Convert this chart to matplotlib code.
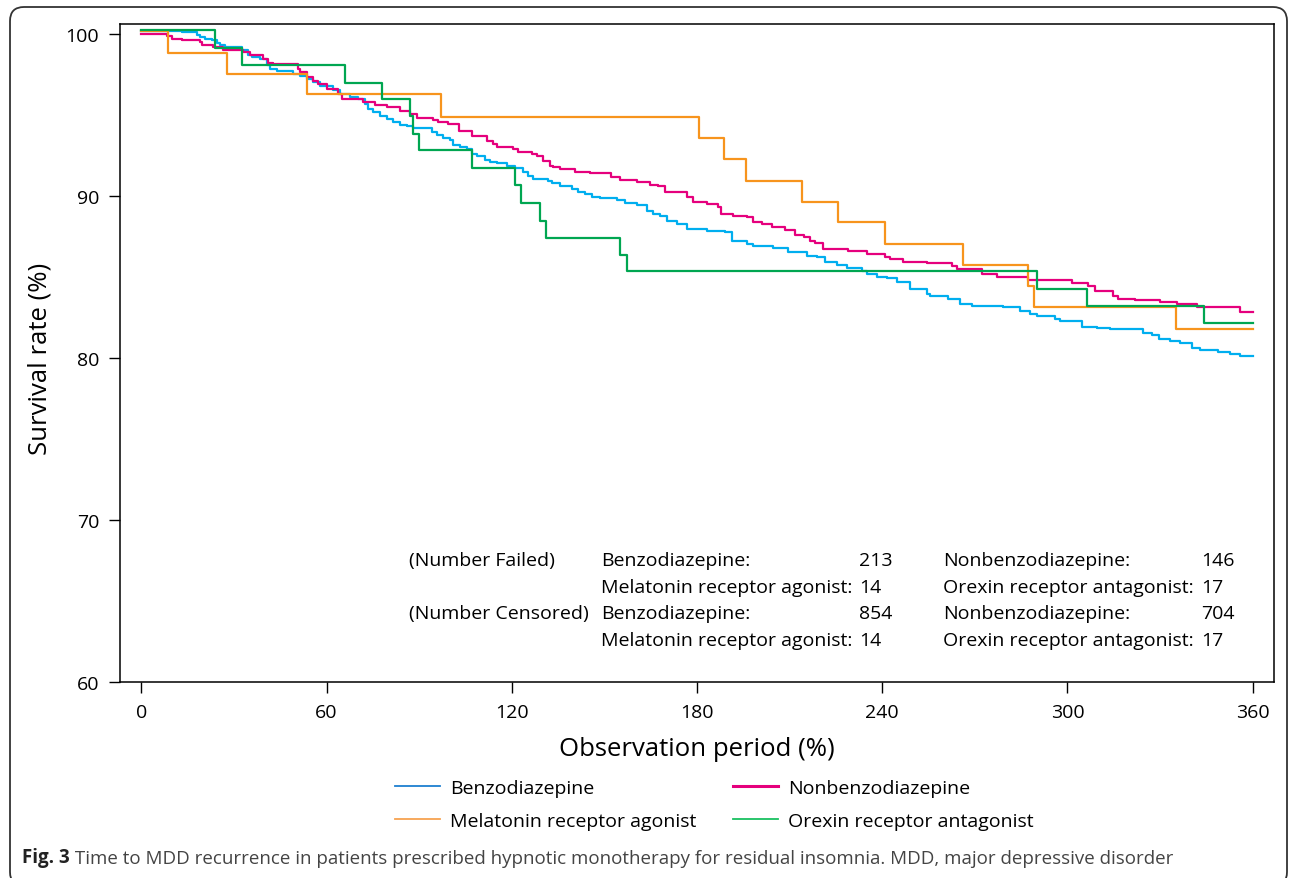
import matplotlib
matplotlib.use('Agg')
import matplotlib.pyplot as plt
from matplotlib.lines import Line2D
from matplotlib.patches import FancyBboxPatch
from matplotlib.transforms import IdentityTransform

plt.rcParams['font.family'] = ['Open Sans', 'DejaVu Sans']

# Kaplan-Meier step curves (days, survival %)
benzo_t = [0, 13.1, 17.9, 19.0, 20.6, 22.8, 24.4, 25.5, 27.1, 32.5, 34.7, 35.8, 38.5,
           40.6, 41.7, 43.9, 49.2, 51.4, 53.6, 55.7, 57.9, 62.2, 64.4, 67.6, 70.3, 72.5,
           73.5, 75.2, 77.3, 79.5, 81.6, 83.8, 86.0, 88.1, 94.1, 95.7, 97.8, 100.0, 101.1,
           103.2, 105.4, 107.0, 108.6, 111.3, 113.0, 115.1, 118.4, 121.1, 123.7, 125.4,
           127.0, 131.8, 132.9, 135.6, 139.4, 141.6, 143.7, 145.9, 148.6, 154.0, 156.7,
           160.5, 163.7, 165.9, 168.0, 170.2, 173.4, 176.7, 183.2, 189.1, 191.3, 196.1,
           198.3, 204.7, 209.6, 215.5, 218.8, 221.5, 225.3, 228.5, 233.4, 235.0, 238.2,
           241.5, 244.7, 249.0, 254.4, 255.5, 261.4, 265.2, 269.0, 279.2, 284.6, 287.9,
           290.1, 296.0, 297.6, 304.6, 309.5, 313.8, 324.6, 327.3, 329.5, 333.2, 336.5,
           340.3, 343.0, 348.9, 352.7, 355.9, 360]
benzo_s = [100.19, 100.10, 99.94, 99.79, 99.69, 99.59, 99.44, 99.32, 99.18, 98.97, 98.70,
           98.56, 98.45, 98.04, 97.84, 97.67, 97.53, 97.38, 97.22, 97.01, 96.80, 96.50,
           96.29, 96.08, 95.98, 95.67, 95.36, 95.16, 94.95, 94.74, 94.54, 94.37, 94.29,
           94.17, 93.92, 93.72, 93.55, 93.41, 93.14, 93.00, 92.89, 92.58, 92.44, 92.21,
           92.06, 92.02, 91.86, 91.71, 91.45, 91.20, 91.03, 90.93, 90.77, 90.58, 90.41,
           90.21, 90.11, 89.90, 89.84, 89.75, 89.55, 89.42, 89.07, 88.87, 88.72, 88.45,
           88.25, 87.94, 87.84, 87.74, 87.22, 87.01, 86.91, 86.77, 86.50, 86.29, 86.19,
           85.88, 85.71, 85.53, 85.36, 85.16, 84.99, 84.89, 84.68, 84.27, 83.92, 83.82,
           83.65, 83.30, 83.20, 83.10, 82.89, 82.68, 82.58, 82.42, 82.27, 81.92, 81.86,
           81.76, 81.55, 81.39, 81.14, 81.03, 80.89, 80.62, 80.48, 80.35, 80.21, 80.11,
           80.11]

nonbenzo_t = [0, 8.2, 9.8, 13.1, 19.0, 19.6, 23.3, 26.6, 33.0, 35.2, 39.5, 41.1, 42.8,
              50.9, 51.4, 53.6, 55.7, 57.3, 60.0, 63.8, 64.9, 71.9, 75.7, 79.5, 83.8, 87.0,
              89.2, 94.6, 96.2, 99.4, 103.0, 107.0, 111.9, 114.0, 115.1, 120.5, 122.1,
              126.5, 128.1, 130.2, 132.4, 133.5, 135.6, 140.5, 145.4, 152.0, 155.1, 160.5,
              164.8, 167.5, 169.6, 176.7, 178.8, 183.1, 186.9, 187.7, 191.8, 196.1, 198.0,
              201.0, 204.2, 208.5, 211.8, 214.5, 216.6, 218.2, 220.9, 229.0, 235.0, 240.9,
              242.5, 246.8, 254.4, 262.5, 264.1, 272.2, 277.1, 287.3, 301.4, 306.8, 308.9,
              314.9, 316.5, 321.9, 330.0, 335.4, 341.9, 355.9, 360]
nonbenzo_s = [100.0, 99.86, 99.69, 99.59, 99.48, 99.28, 99.18, 98.97, 98.87, 98.70, 98.45,
              98.19, 98.10, 97.84, 97.63, 97.32, 97.11, 96.87, 96.60, 96.29, 95.98, 95.77,
              95.61, 95.47, 95.26, 95.05, 94.78, 94.70, 94.54, 94.43, 94.02, 93.71, 93.40,
              93.20, 92.99, 92.89, 92.68, 92.58, 92.48, 92.17, 91.86, 91.75, 91.65, 91.49,
              91.40, 91.14, 90.97, 90.83, 90.66, 90.58, 90.25, 89.90, 89.59, 89.49, 89.28,
              88.87, 88.77, 88.66, 88.39, 88.25, 88.04, 87.90, 87.57, 87.43, 87.22, 87.07,
              86.70, 86.60, 86.39, 86.19, 86.09, 85.92, 85.84, 85.67, 85.47, 85.16, 85.01,
              84.79, 84.60, 84.40, 84.13, 83.82, 83.65, 83.55, 83.45, 83.30, 83.10, 82.83,
              82.83]

melatonin_t = [0, 8.6, 27.8, 53.7, 97.0, 180.8, 188.9, 195.8, 214.0, 225.8, 240.9, 266.0,
               287.1, 289.2, 335.2, 360]
melatonin_s = [100.14, 98.8, 97.5, 96.27, 94.85, 93.57, 92.27, 90.93, 89.6, 88.35, 87.03,
               85.7, 84.4, 83.1, 81.76, 81.76]

orexin_t = [0, 23.9, 32.7, 66.0, 77.9, 87.0, 87.9, 90.1, 107.0, 121.0, 122.9, 129.2, 131.0,
            155.2, 157.3, 290.0, 306.3, 344.2, 360]
orexin_s = [100.2, 99.1, 98.04, 96.97, 95.94, 94.95, 93.8, 92.8, 91.7, 90.68, 89.57, 88.45,
            87.4, 86.35, 85.36, 84.27, 83.2, 82.13, 82.13]

# counts table shown inside the plot
count_rows = ['(Number Failed)', '', '(Number Censored)', '']
count_names = ['Benzodiazepine:', 'Melatonin receptor agonist:',
               'Benzodiazepine:', 'Melatonin receptor agonist:']
count_vals = ['213', '14', '854', '14']
count_names2 = ['Nonbenzodiazepine:', 'Orexin receptor antagonist:',
                'Nonbenzodiazepine:', 'Orexin receptor antagonist:']
count_vals2 = ['146', '17', '704', '17']

xticks = [0, 60, 120, 180, 240, 300, 360]
yticks = [60, 70, 80, 90, 100]

W, H = 1292, 879
fig = plt.figure(figsize=(W / 100, H / 100), dpi=100)

# rounded frame around the whole figure
frame = FancyBboxPatch((10, -8), 1277, 879, boxstyle='round,pad=0,rounding_size=14',
                       transform=IdentityTransform(), fill=False, ec='#333333', lw=1.3)
fig.add_artist(frame)

ax = fig.add_axes([120 / W, 1 - 682.7 / H, 1154 / W, 657.7 / H])

ax.step(benzo_t, benzo_s, where='post', color='#00AEEF', lw=1.6, zorder=2)
ax.step(nonbenzo_t, nonbenzo_s, where='post', color='#E5007D', lw=1.6, zorder=3)
ax.step(melatonin_t, melatonin_s, where='post', color='#F7941D', lw=1.6, zorder=4)
ax.step(orexin_t, orexin_s, where='post', color='#00A651', lw=1.6, zorder=5)

ax.set_xlim(-6.9, 366.9)
ax.set_ylim(60, 100.6)
ax.set_xticks(xticks)
ax.set_yticks(yticks)
ax.tick_params(direction='out', length=8, width=1, labelsize=14, pad=7, colors='black')
for sp in ax.spines.values():
    sp.set_linewidth(1.1)

ax.set_xlabel('Observation period (%)', fontsize=18.5)
ax.xaxis.set_label_coords(0.5, -0.1023)
ax.xaxis.label.set_va('center')
ax.set_ylabel('Survival rate (%)', fontsize=18.5)
ax.yaxis.set_label_coords(-0.0693, 0.493)
ax.yaxis.label.set_va('center')

row_y = [67.53, 65.86, 64.25, 62.58]
for i in range(4):
    ax.text(86.8, row_y[i], count_rows[i], fontsize=14, va='center')
    ax.text(148.9, row_y[i], count_names[i], fontsize=14, va='center')
    ax.text(232.5, row_y[i], count_vals[i], fontsize=14, va='center')
    ax.text(259.7, row_y[i], count_names2[i], fontsize=14, va='center')
    ax.text(343.3, row_y[i], count_vals2[i], fontsize=14, va='center')

# legend below the axes, two columns
h1 = [Line2D([], [], color='#1E7FD0', lw=1.3), Line2D([], [], color='#F7A350', lw=1.3)]
h2 = [Line2D([], [], color='#E5007D', lw=2.2), Line2D([], [], color='#19C060', lw=1.3)]
leg_kw = dict(loc='center left', frameon=False, fontsize=14, borderpad=0,
              borderaxespad=0, handlelength=2.3, handletextpad=0.55, labelspacing=0.8)
leg1 = fig.legend(h1, ['Benzodiazepine', 'Melatonin receptor agonist'],
                  bbox_to_anchor=(395 / W, 1 - 805.5 / H), **leg_kw)
leg2 = fig.legend(h2, ['Nonbenzodiazepine', 'Orexin receptor antagonist'],
                  bbox_to_anchor=(733 / W, 1 - 805.5 / H), **leg_kw)

cap = fig.text(22 / W, 1 - 868 / H, 'Fig. 3', fontsize=13.5, weight='bold', va='bottom',
               color='#222222')
plt.annotate(' Time to MDD recurrence in patients prescribed hypnotic monotherapy for '
             'residual insomnia. MDD, major depressive disorder',
             xy=(1, 0), xycoords=cap, va='bottom', ha='left', fontsize=13.5,
             color='#444444', annotation_clip=False)

fig.savefig('out.png', dpi=100)
